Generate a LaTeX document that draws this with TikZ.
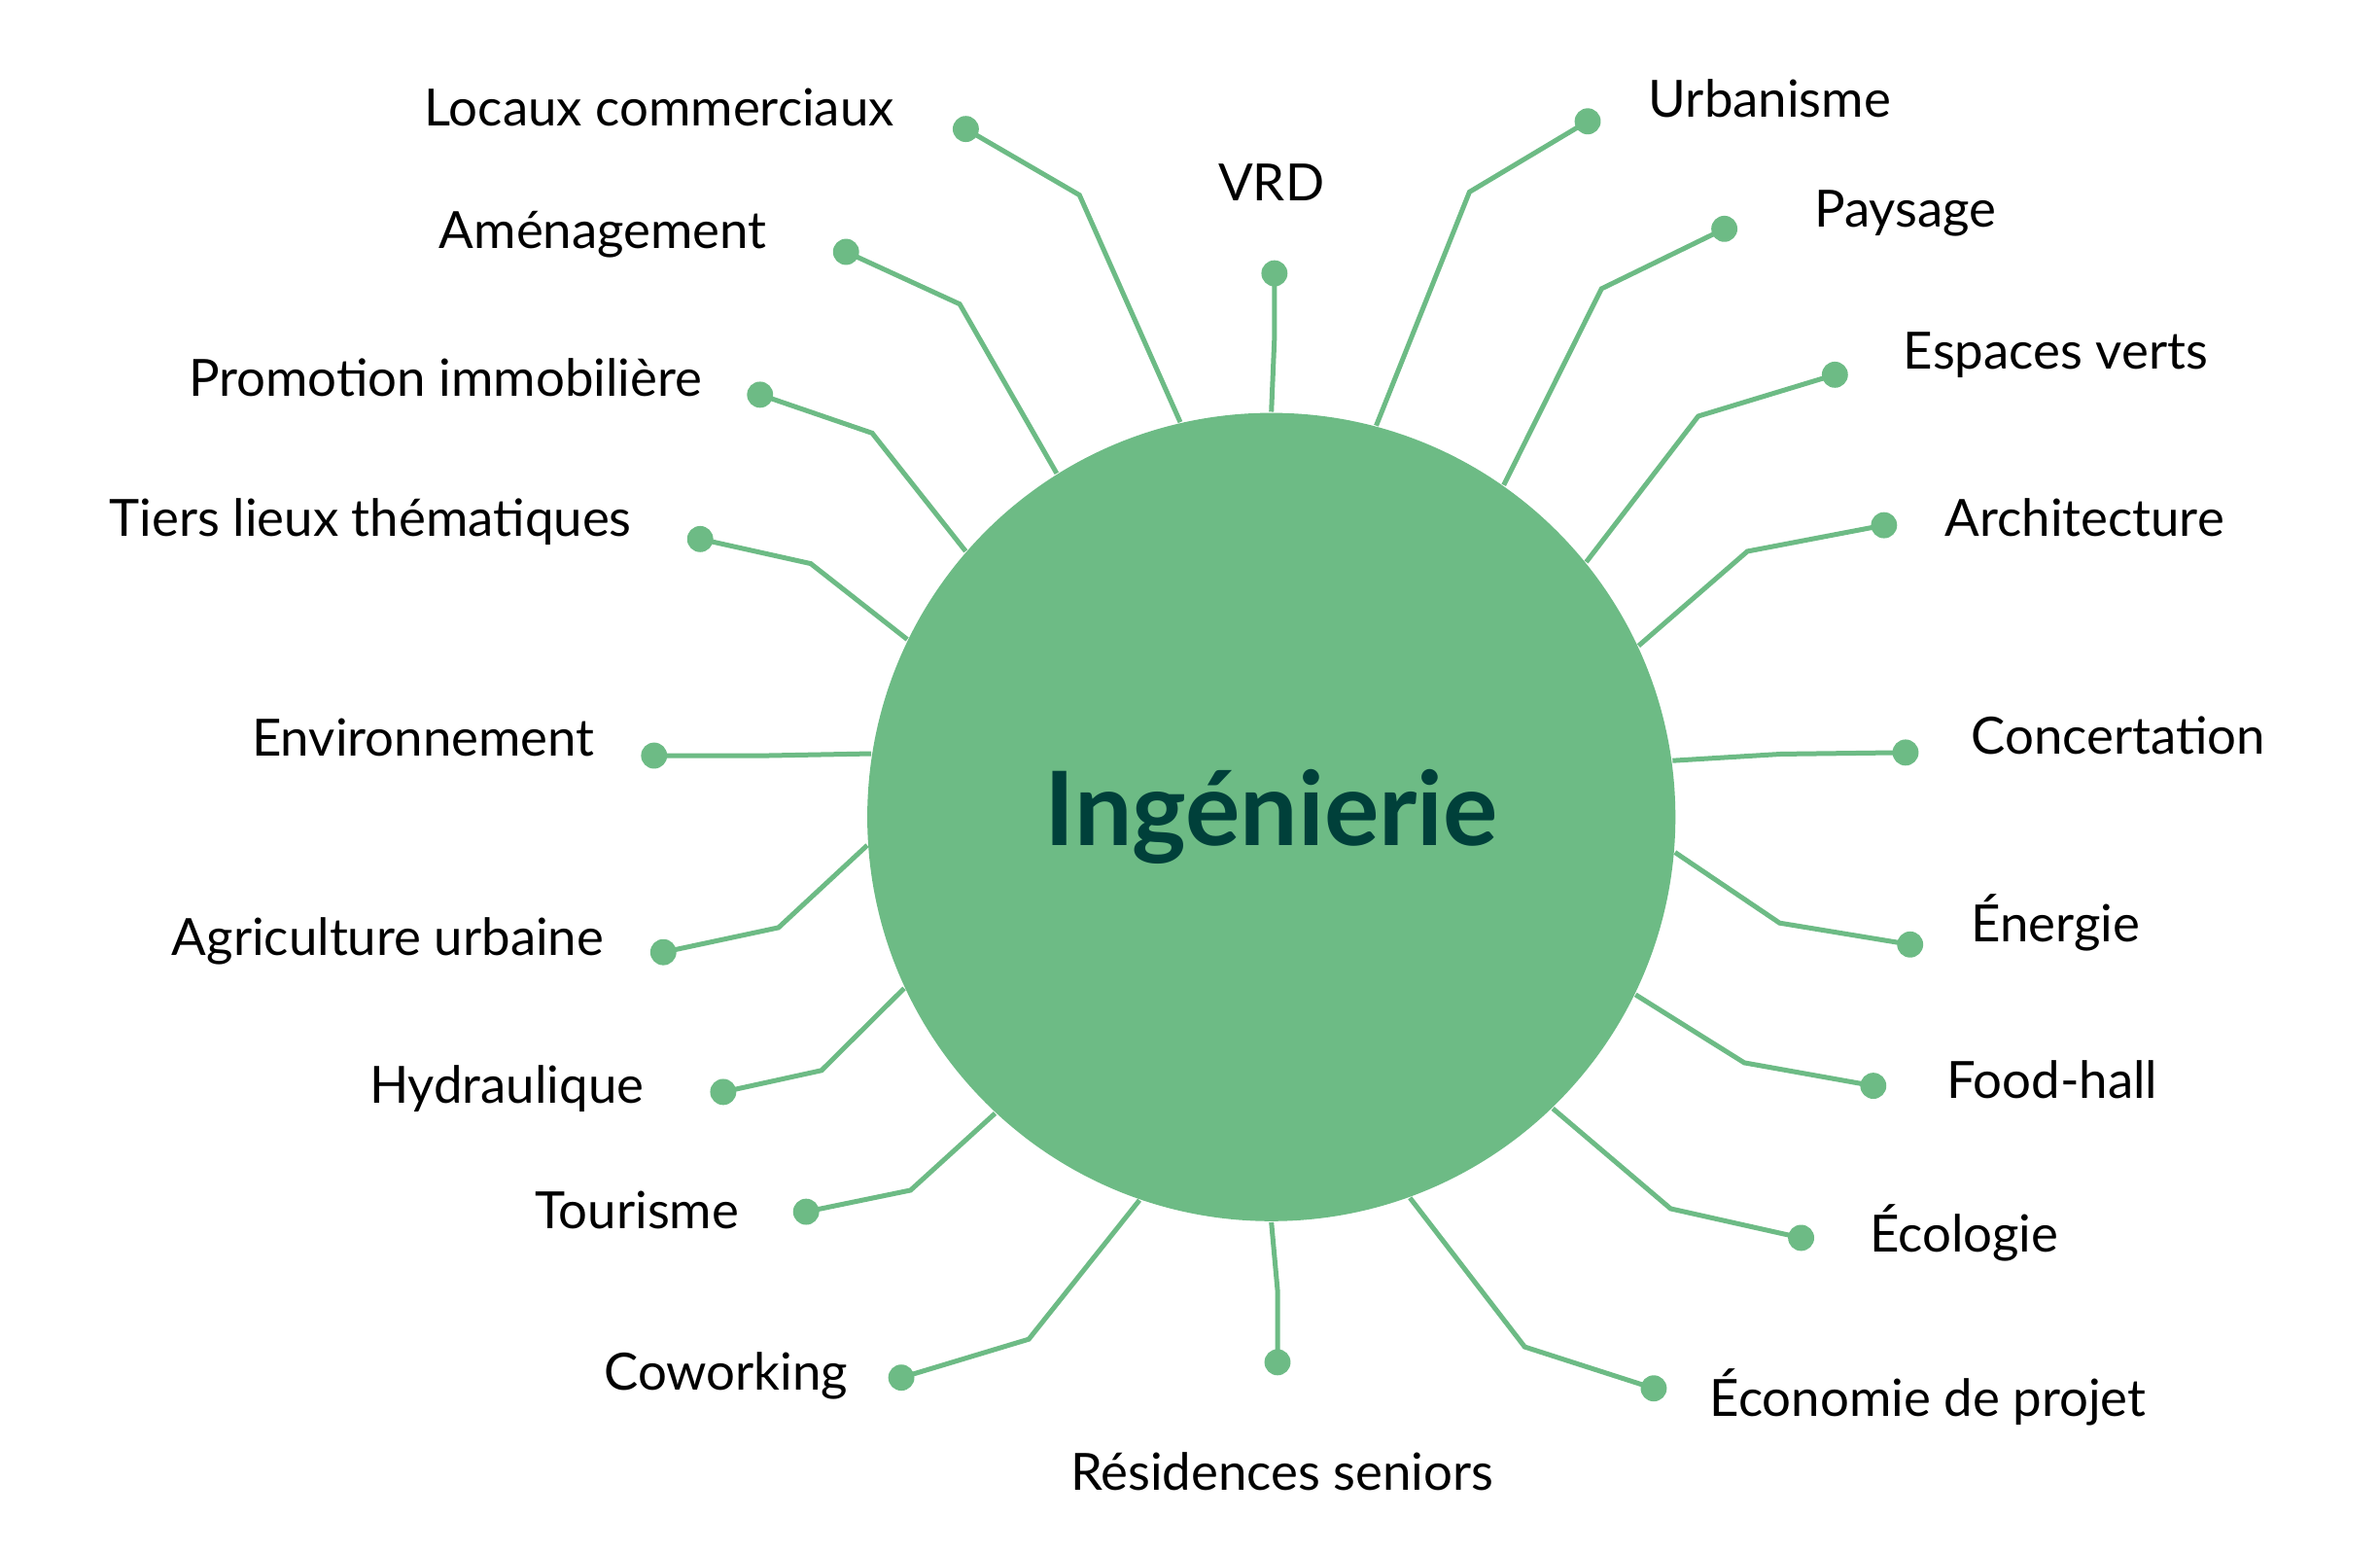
\documentclass[tikz,border=0pt]{standalone}
\usepackage{fontspec}
\setmainfont{Lato}
\usepackage{xcolor}
\definecolor{ingreen}{HTML}{6DBB85}
\definecolor{indark}{HTML}{00403A}
\usetikzlibrary{positioning}

\begin{document}
\begin{tikzpicture}[
    x=0.01cm, y=-0.01cm,
    hub/.style={circle, fill=ingreen, draw=none, minimum size=5.26cm, inner sep=0pt, text=indark, font=\fontsize{19}{22}\selectfont\bfseries},
    spoke/.style={draw=ingreen, line width=0.9pt},
    tip/.style={circle, fill=ingreen, draw=none, minimum size=0.17cm, inner sep=0pt},
    lbl/.style={inner sep=0pt, text=black, font=\fontsize{9.5}{11}\selectfont}
]
\useasboundingbox (0,0) rectangle (1550,1010);

% Centre
\node[hub] (hub) at (828,532) {Ingénierie};

% Spokes
\foreach \n/\a/\ex/\ey/\dx/\dy/\lx/\ly/\an/\t in {
  loc/103.5/703/127/629/84/583/70/east/Locaux commerciaux,
  ame/122.6/625/198/551/164/500/153/east/Aménagement,
  pro/139.3/568/282/495/257/458/246/east/Promotion immobilière,
  tie/154.8/528/367/456/351/412/340/east/Tiers lieux thématiques,
  env/171.3/500/492/426/492/388/480/east/Environnement,
  agr/184.6/507/604/432/620/394/613/east/Agriculture urbaine,
  hyd/205.4/535/697/471/711/420/709/east/Hydraulique,
  tou/227.8/593/775/525/789/482/788/east/Tourisme,
  cow/251.8/670/872/587/897/553/896/east/Coworking,
  res/270/832/840/832/887/835/958/center/Résidences seniors,
  eco/290.2/993/877/1077/904/1113/910/west/Économie de projet,
  ecl/314.8/1088/787/1173/806/1217/803/west/Écologie,
  foo/334.6/1136/692/1220/707/1267/703/west/Food-hall,
  ene/355.4/1159/601/1244/615/1283/601/west/Énergie,
  con/8.7/1160/491/1241/490/1283/479/west/Concertation,
  arc/25.6/1138/359/1227/342/1266/337/west/Architecture,
  esp/39.9/1106/271/1195/244/1239/231/west/Espaces verts,
  pay/55.2/1043/188/1123/149/1181/139/west/Paysage,
  urb/75.8/957/125/1034/79/1073/64/west/Urbanisme,
  vrd/90/830/220/830/178/828/119/center/VRD}{
  \node[tip] (d\n) at (\dx,\dy) {};
  \node[lbl, anchor=\an] (l\n) at (\lx,\ly) {\t};
  \draw[spoke] (hub.\a) -- (\ex,\ey) -- (d\n.center);
}

\end{tikzpicture}
\end{document}
